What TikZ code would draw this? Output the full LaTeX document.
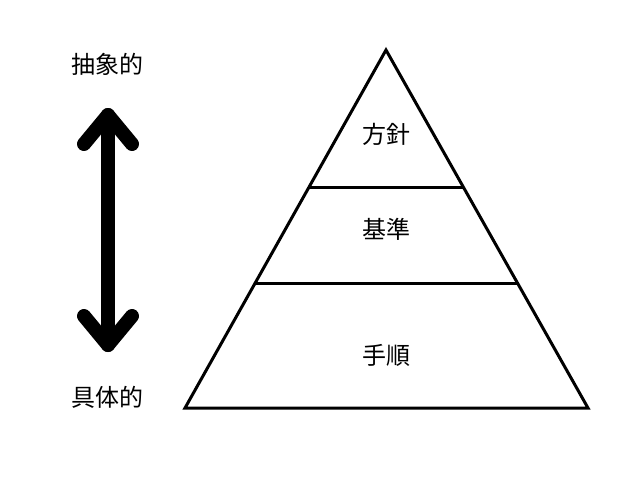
\documentclass[tikz,border=0pt]{standalone}
\usepackage{fontspec}
\usetikzlibrary{calc}
\newfontfamily\cjk{Noto Sans CJK JP}
\begin{document}
\begin{tikzpicture}[x=1pt,y=-1pt,
  lbl/.style={font=\cjk\fontsize{24}{28}\selectfont, inner sep=0pt, anchor=center},
  tri/.style={line width=3pt, line join=miter},
  arr/.style={line width=14pt, line cap=round, line join=round}]
\useasboundingbox (0,0) rectangle (640,480);
\coordinate (A) at (386,50);
\coordinate (BL) at (185,408);
\coordinate (BR) at (588,408);
\draw[tri] (A) -- (BR) -- (BL) -- cycle;
\coordinate (L1) at ($(A)!0.385!(BL)$);
\coordinate (R1) at ($(A)!0.385!(BR)$);
\coordinate (L2) at ($(A)!0.6536!(BL)$);
\coordinate (R2) at ($(A)!0.6536!(BR)$);
\draw[tri] (L1) -- (R1);
\draw[tri] (L2) -- (R2);
\node[lbl] (p1) at (386,134) {方針};
\node[lbl] (p2) at (386,229) {基準};
\node[lbl] (p3) at (386,355) {手順};
\node[lbl] (top) at (107,64) {抽象的};
\node[lbl] (bot) at (107,397) {具体的};
\coordinate (t) at (108,115);
\coordinate (b) at (108,345);
\draw[arr] (t) -- (b);
\draw[arr] (84,144) -- (t) -- (132,144);
\draw[arr] (84,316) -- (b) -- (132,316);
\end{tikzpicture}
\end{document}
